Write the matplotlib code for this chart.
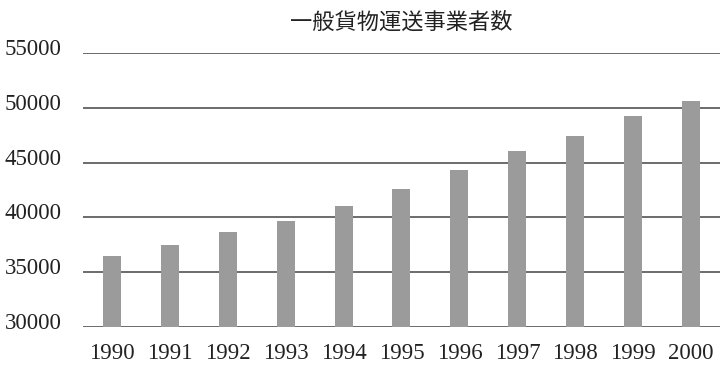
import matplotlib
matplotlib.use("Agg")
import matplotlib.pyplot as plt
import matplotlib.transforms as mtransforms

years = ["1990", "1991", "1992", "1993", "1994", "1995", "1996", "1997", "1998", "1999", "2000"]
counts = [36500, 37450, 38660, 39630, 41060, 42610, 44300, 46090, 47460, 49230, 50600]
yticks = [30000, 35000, 40000, 45000, 50000, 55000]
title = "一般貨物運送事業者数"

fig = plt.figure(figsize=(7.26, 3.76), dpi=100)
ax = fig.add_axes([0.114, 0.131, 0.878, 0.728])

x = range(len(years))
ax.bar(x, [c - yticks[0] for c in counts], bottom=yticks[0], width=0.31, color="#9b9b9b", zorder=3)

ax.set_ylim(yticks[0], yticks[-1])
ax.set_xlim(-0.5, len(years) - 0.5)
ax.set_yticks(yticks)
ax.set_yticklabels([str(v) for v in yticks], fontsize=16.5, family="Liberation Serif", color="#222222")
ax.set_xticks(list(x))
ax.set_xticklabels(years, fontsize=16.5, family="Liberation Serif", color="#222222")
ax.tick_params(axis="both", length=0)
ax.tick_params(axis="y", pad=15)
ax.tick_params(axis="x", pad=12)
ax.grid(axis="y", color="#444444", linewidth=1.1, zorder=1)
for s in ["top", "right", "left", "bottom"]:
    ax.spines[s].set_visible(False)

shift = mtransforms.ScaledTranslation(0, -1.5 / 72, fig.dpi_scale_trans)
for lab in ax.get_yticklabels():
    lab.set_va("baseline")
    lab.set_transform(lab.get_transform() + shift)

fig.text(0.553, 0.941, title, ha="center", va="center", fontsize=16,
         family=["Noto Sans CJK JP", "DejaVu Sans"], color="#222222")

fig.savefig("out.png", dpi=100, facecolor="white")
